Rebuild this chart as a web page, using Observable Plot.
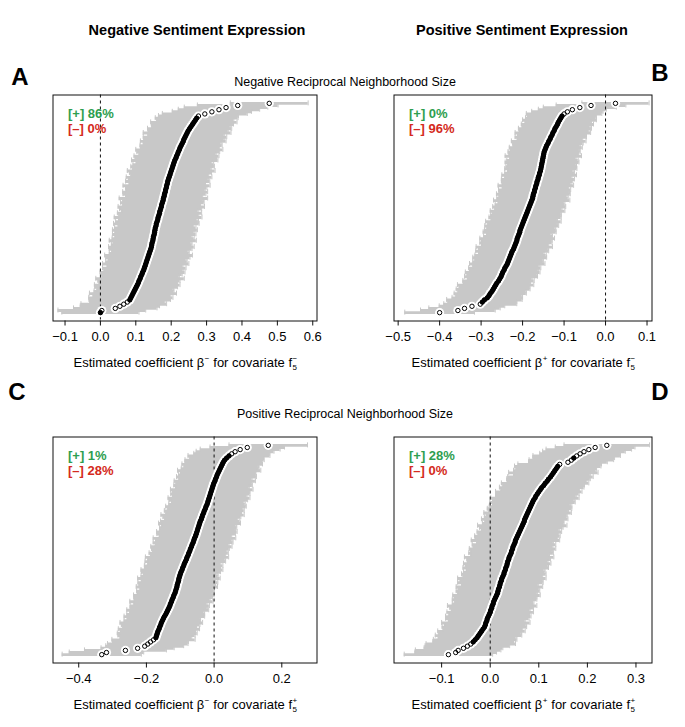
<!DOCTYPE html>
<html><head><meta charset="utf-8">
<script src="https://cdn.jsdelivr.net/npm/d3@7"></script>
<script src="https://cdn.jsdelivr.net/npm/@observablehq/plot@0.6"></script>
<style>
body{margin:0;background:#fff;}
#c{position:relative;width:685px;height:727px;overflow:hidden;font-family:"Liberation Sans",Arial,Helvetica,sans-serif;color:#000;background:#fff;}
.t{position:absolute;white-space:nowrap;transform:translate(-50%,-50%);line-height:1;}
.col{font-weight:bold;font-size:14.5px;}
.row{font-size:12.5px;}
.let{font-weight:bold;font-size:24px;}
.xl{font-size:13px;}
.ss{position:relative;display:inline-block;width:6.5px;height:0;}
.ss.b{width:9px;}
.ss span{position:absolute;left:0.5px;font-size:8px;line-height:8px;}
.ss .u{top:-12px;}
.ss .d{top:-3.5px;}
</style>
</head><body><div id="c"></div>
<script>
// ---------- data (estimates and CI half-widths in thousandths, sorted units) ----------
const A_est = [
  0,4,42,55,66,76,83,86,89,92,
  95,98,101,104,107,109,112,114,117,119,
  122,124,126,128,130,132,134,136,138,140,
  142,144,145,146,148,149,150,152,153,154,
  155,157,158,160,162,163,165,167,168,170,
  172,173,175,177,178,180,181,183,184,186,
  187,189,190,192,194,196,198,200,202,204,
  206,208,210,213,215,218,220,223,225,228,
  231,234,236,239,242,245,248,252,256,260,
  264,268,272,277,295,315,335,355,388,477];
const A_hw = [
  109,124,118,112,121,106,115,119,110,123,
  113,108,117,121,111,116,125,109,114,120,
  112,118,107,122,115,110,119,124,113,108,
  117,121,114,110,123,116,109,118,112,120,
  115,107,121,117,111,124,113,119,108,116,
  122,110,118,114,125,109,117,120,112,115,
  123,108,119,113,121,110,116,124,111,118,
  114,107,122,115,120,109,117,123,112,116,
  110,121,114,118,108,124,113,119,111,116,
  122,109,117,113,120,112,115,118,114,110];
const B_est = [
  -400,-356,-340,-322,-302,-297,-292,-285,-281,-278,
  -274,-271,-268,-265,-262,-258,-255,-252,-250,-248,
  -245,-243,-240,-237,-235,-233,-231,-229,-227,-225,
  -222,-220,-218,-216,-214,-213,-211,-209,-207,-206,
  -204,-202,-200,-198,-196,-194,-192,-190,-188,-186,
  -184,-182,-180,-178,-176,-175,-174,-172,-171,-169,
  -168,-166,-165,-163,-162,-160,-159,-157,-156,-155,
  -154,-153,-152,-151,-150,-149,-148,-146,-144,-142,
  -139,-137,-134,-132,-129,-127,-124,-122,-119,-116,
  -114,-111,-108,-105,-100,-92,-80,-62,-35,24];
const B_hw = [
  84,90,86,79,88,83,91,85,80,87,
  82,89,85,92,81,86,78,88,84,90,
  83,87,80,91,85,82,89,86,79,88,
  84,92,81,87,85,90,83,78,88,86,
  82,89,84,91,80,87,85,83,90,81,
  88,84,79,92,86,82,89,85,87,80,
  91,83,86,88,81,90,84,79,87,85,
  82,89,86,80,92,84,87,83,88,81,
  85,90,79,86,83,91,84,88,82,87,
  80,89,85,83,91,86,82,88,84,81];
const C_est = [
  -332,-318,-262,-226,-205,-196,-188,-179,-172,-170,
  -168,-166,-163,-161,-158,-156,-153,-150,-147,-143,
  -140,-137,-134,-131,-129,-126,-124,-121,-119,-116,
  -114,-112,-110,-109,-107,-105,-104,-102,-100,-98,
  -95,-93,-90,-88,-85,-82,-80,-77,-75,-72,
  -70,-67,-65,-62,-60,-58,-55,-53,-51,-49,
  -47,-45,-43,-41,-38,-36,-34,-31,-29,-26,
  -24,-21,-19,-17,-15,-13,-11,-9,-7,-5,
  -3,-1,2,4,7,9,12,15,18,21,
  24,27,31,37,44,52,62,77,98,160];
const C_hw = [
  117,110,121,108,115,119,112,123,106,114,
  118,111,120,109,116,122,113,107,119,115,
  110,121,114,117,108,123,112,116,119,111,
  115,107,120,113,118,110,122,114,109,117,
  121,112,116,108,119,114,123,111,117,110,
  115,120,109,118,113,122,107,116,119,112,
  114,110,121,117,108,115,123,112,118,111,
  119,113,107,116,121,110,117,114,122,109,
  116,112,120,108,118,114,111,123,115,110,
  119,113,117,109,121,112,115,118,110,116];
const D_est = [
  -86,-71,-66,-55,-47,-40,-35,-31,-27,-24,
  -21,-18,-15,-12,-10,-9,-7,-6,-4,-2,
  0,1,3,4,6,7,9,11,13,15,
  16,17,19,20,21,23,24,26,28,29,
  31,32,34,35,36,38,39,41,43,44,
  46,47,49,51,52,54,56,58,60,62,
  64,66,68,70,71,73,75,77,79,81,
  83,85,87,89,92,94,97,100,103,106,
  110,113,117,120,124,127,130,133,136,139,
  143,160,167,172,178,185,193,203,216,240];
const D_hw = [
  91,84,88,81,87,92,83,86,80,89,
  85,90,82,87,84,91,79,86,88,83,
  89,81,86,92,84,80,87,85,90,82,
  86,83,89,79,88,85,91,82,87,84,
  80,88,85,90,83,86,92,81,87,84,
  89,82,86,79,91,85,88,83,87,80,
  86,92,84,81,89,85,83,90,82,87,
  85,80,88,84,91,83,86,89,81,87,
  84,90,82,86,88,79,92,85,83,89,
  86,81,87,84,90,83,85,88,82,88];

const panelLetters = ["A","B","C","D"];
const posShare = ["86%","0%","1%","28%"];
const negShare = ["0%","96%","28%","0%"];
const A_ticks = [-0.1,0.0,0.1,0.2,0.3,0.4,0.5,0.6];
const B_ticks = [-0.5,-0.4,-0.3,-0.2,-0.1,0.0,0.1];
const C_ticks = [-0.4,-0.2,0.0,0.2];
const D_ticks = [-0.1,0.0,0.1,0.2,0.3];
const colTitles = ["Negative Sentiment Expression","Positive Sentiment Expression"];
const rowTitles = ["Negative Reciprocal Neighborhood Size","Positive Reciprocal Neighborhood Size"];
const betaSign = ["−","+","−","+"];
const covSign = ["−","−","+","+"];

// ---------- layout ----------
const C = document.getElementById("c");
const panels = [
  {est:A_est, hw:A_hw, ticks:A_ticks, domain:[-0.134,0.612], fx:52, fy:94, fw:264, fh:226},
  {est:B_est, hw:B_hw, ticks:B_ticks, domain:[-0.510,0.112], fx:393, fy:94, fw:258, fh:226},
  {est:C_est, hw:C_hw, ticks:C_ticks, domain:[-0.476,0.304], fx:52, fy:436, fw:264, fh:226},
  {est:D_est, hw:D_hw, ticks:D_ticks, domain:[-0.198,0.333], fx:393, fy:436, fw:258, fh:226}
];
const fmt = d3.format(".1f");
const GRAY = "#c8c8c8";

panels.forEach((p, k) => {
  const pxUnit = p.fw / (p.domain[1] - p.domain[0]);
  const rows = p.est.map((e, i) => ({row: i, est: e/1000, lo: (e - p.hw[i])/1000, hi: (e + p.hw[i])/1000}));
  // a unit is "crowded" when both neighbours sit within 3 px horizontally
  rows.forEach((r, i) => {
    const a = i > 0 ? Math.abs(r.est - rows[i-1].est) * pxUnit : 0;
    const b = i < rows.length - 1 ? Math.abs(rows[i+1].est - r.est) * pxUnit : 0;
    r.dense = a < 3 && b < 3;
  });
  const n = rows.length;
  const pad = (n - 1) * 0.04;
  const yDom = [-pad, n - 1 + pad];
  const pxRow = p.fh / (yDom[1] - yDom[0]);
  const cap = 2.5 / pxRow;
  const m = 10.5, mb = 39.5;
  const W = p.fw + 2*m, H = p.fh + m + mb;
  const plot = Plot.plot({
    width: W, height: H,
    marginLeft: m, marginRight: m, marginTop: m, marginBottom: mb,
    style: {background: "transparent", fontFamily: '"Liberation Sans", Arial, sans-serif', fontSize: "13px", overflow: "visible"},
    x: {domain: p.domain},
    y: {domain: yDom, axis: null},
    marks: [
      Plot.ruleY(rows, {y: "row", x1: "lo", x2: "hi", stroke: GRAY, strokeWidth: pxRow + 0.8}),
      Plot.ruleX(rows, {x: "lo", y1: d => d.row - cap, y2: d => d.row + cap, stroke: GRAY, strokeWidth: 1}),
      Plot.ruleX(rows, {x: "hi", y1: d => d.row - cap, y2: d => d.row + cap, stroke: GRAY, strokeWidth: 1}),
      Plot.ruleX([0], {stroke: "#111", strokeWidth: 1, strokeDasharray: "3,3"}),
      Plot.dot(rows, {x: "est", y: "row", r: 4.6, fill: "white", stroke: null}),
      Plot.dot(rows.filter(d => d.dense), {x: "est", y: "row", r: 2.4, fill: "black", stroke: null}),
      Plot.dot(rows, {x: "est", y: "row", r: 2.2, fill: "none", stroke: "black", strokeWidth: 1}),
      Plot.text([`[+] ${posShare[k]}`], {frameAnchor: "top-left", dx: 15, dy: 19, text: d => d, fill: "#2e9e4f", fontWeight: "bold", fontSize: 13, textAnchor: "start", lineAnchor: "middle"}),
      Plot.text([`[–] ${negShare[k]}`], {frameAnchor: "top-left", dx: 15, dy: 34, text: d => d, fill: "#d42a20", fontWeight: "bold", fontSize: 13, textAnchor: "start", lineAnchor: "middle"}),
      Plot.frame({stroke: "#111", strokeWidth: 1}),
      Plot.axisX({ticks: p.ticks, tickSize: 5, tickPadding: 6, tickFormat: fmt, label: null, fontSize: 13, stroke: "#111"})
    ]
  });
  plot.style.position = "absolute";
  plot.style.left = (p.fx - 10) + "px";
  plot.style.top = (p.fy - 10) + "px";
  C.appendChild(plot);

  const lab = document.createElement("div");
  lab.className = "t xl";
  lab.style.left = (p.fx + p.fw/2 + 2) + "px";
  lab.style.top = (p.fy + p.fh + 42) + "px";
  lab.innerHTML = `Estimated coefficient β<span class="ss b"><span class="u">${betaSign[k]}</span></span>for covariate f<span class="ss"><span class="u">${covSign[k]}</span><span class="d">5</span></span>`;
  C.appendChild(lab);
});

function addText(txt, cls, x, y) {
  const d = document.createElement("div");
  d.className = "t " + cls;
  d.style.left = x + "px"; d.style.top = y + "px";
  d.textContent = txt;
  C.appendChild(d);
}
addText(colTitles[0], "col", 197, 30);
addText(colTitles[1], "col", 522, 30);
addText(rowTitles[0], "row", 345, 82);
addText(rowTitles[1], "row", 345, 414);
addText(panelLetters[0], "let", 20, 77);
addText(panelLetters[1], "let", 660, 73);
addText(panelLetters[2], "let", 17, 392);
addText(panelLetters[3], "let", 660, 392);
</script>
</body></html>
